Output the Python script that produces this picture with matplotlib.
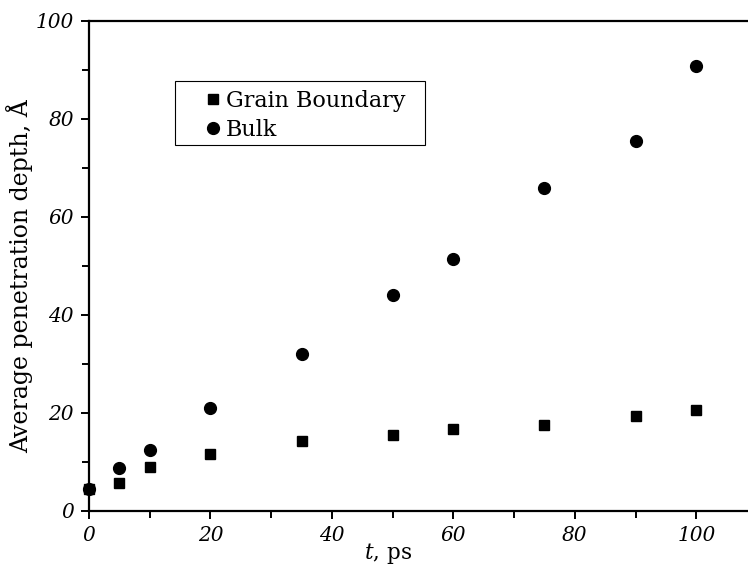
import matplotlib
matplotlib.use('Agg')
import matplotlib.pyplot as plt
from matplotlib.ticker import MultipleLocator
from matplotlib.patches import Rectangle

# data
t_ps = [0, 5, 10, 20, 35, 50, 60, 75, 90, 100]
grain_boundary = [4.5, 5.7, 9.0, 11.6, 14.3, 15.5, 16.7, 17.5, 19.3, 20.6]
bulk = [4.5, 8.8, 12.4, 21.0, 32.0, 44.0, 51.5, 66.0, 75.6, 90.8]

plt.rcParams['font.family'] = ['DejaVu Serif']
plt.rcParams['mathtext.fontset'] = 'dejavuserif'

W, H = 748, 567
fig = plt.figure(figsize=(W/100, H/100), dpi=100, facecolor='white')
ax = fig.add_axes([89/W, 1 - 511/H, (757 - 89)/W, (511 - 21)/H])

ax.plot(t_ps, grain_boundary, 's', color='black', markersize=7.5, label='Grain Boundary', clip_on=False, zorder=3)
ax.plot(t_ps, bulk, 'o', color='black', markersize=8.5, label='Bulk', clip_on=False, zorder=3)

ax.set_xlim(0, 110)
ax.set_ylim(0, 100)

ax.xaxis.set_major_locator(MultipleLocator(20))
ax.xaxis.set_minor_locator(MultipleLocator(10))
ax.yaxis.set_major_locator(MultipleLocator(20))
ax.yaxis.set_minor_locator(MultipleLocator(10))

ax.spines['right'].set_visible(False)
for s in ['left', 'bottom', 'top']:
    ax.spines[s].set_linewidth(1.6)

ax.tick_params(which='major', direction='out', length=6, width=1.4, labelsize=14.5, pad=5)
ax.tick_params(which='minor', direction='out', length=5, width=1.4)
ax.tick_params(top=False, right=False)
for lbl in ax.get_xticklabels() + ax.get_yticklabels():
    lbl.set_fontstyle('italic')

ax.set_xlabel('$t$, ps', fontsize=15.5)
ax.xaxis.set_label_coords((388 - 89)/668, -(553 - 511)/490, transform=ax.transAxes)
ax.xaxis.label.set_va('center')
ax.set_ylabel('Average penetration depth, Å', fontsize=17)
ax.yaxis.set_label_coords(-(89 - 20)/668, (511 - 276)/490, transform=ax.transAxes)
ax.yaxis.label.set_va('center')

# legend without frame, box drawn separately to get the wide left margin
leg = ax.legend(loc='upper left', bbox_to_anchor=(204/W, 1 - 90/H),
                bbox_transform=fig.transFigure, fontsize=16, frameon=False,
                handletextpad=0.2, handlelength=0.8, borderpad=0,
                labelspacing=0.3, borderaxespad=0, markerscale=1.0)
fig.patches.append(Rectangle((175/W, 1 - 145/H), 250/W, 64/H, transform=fig.transFigure,
                             fill=False, edgecolor='black', linewidth=0.8))

plt.savefig('out.png', dpi=100)
